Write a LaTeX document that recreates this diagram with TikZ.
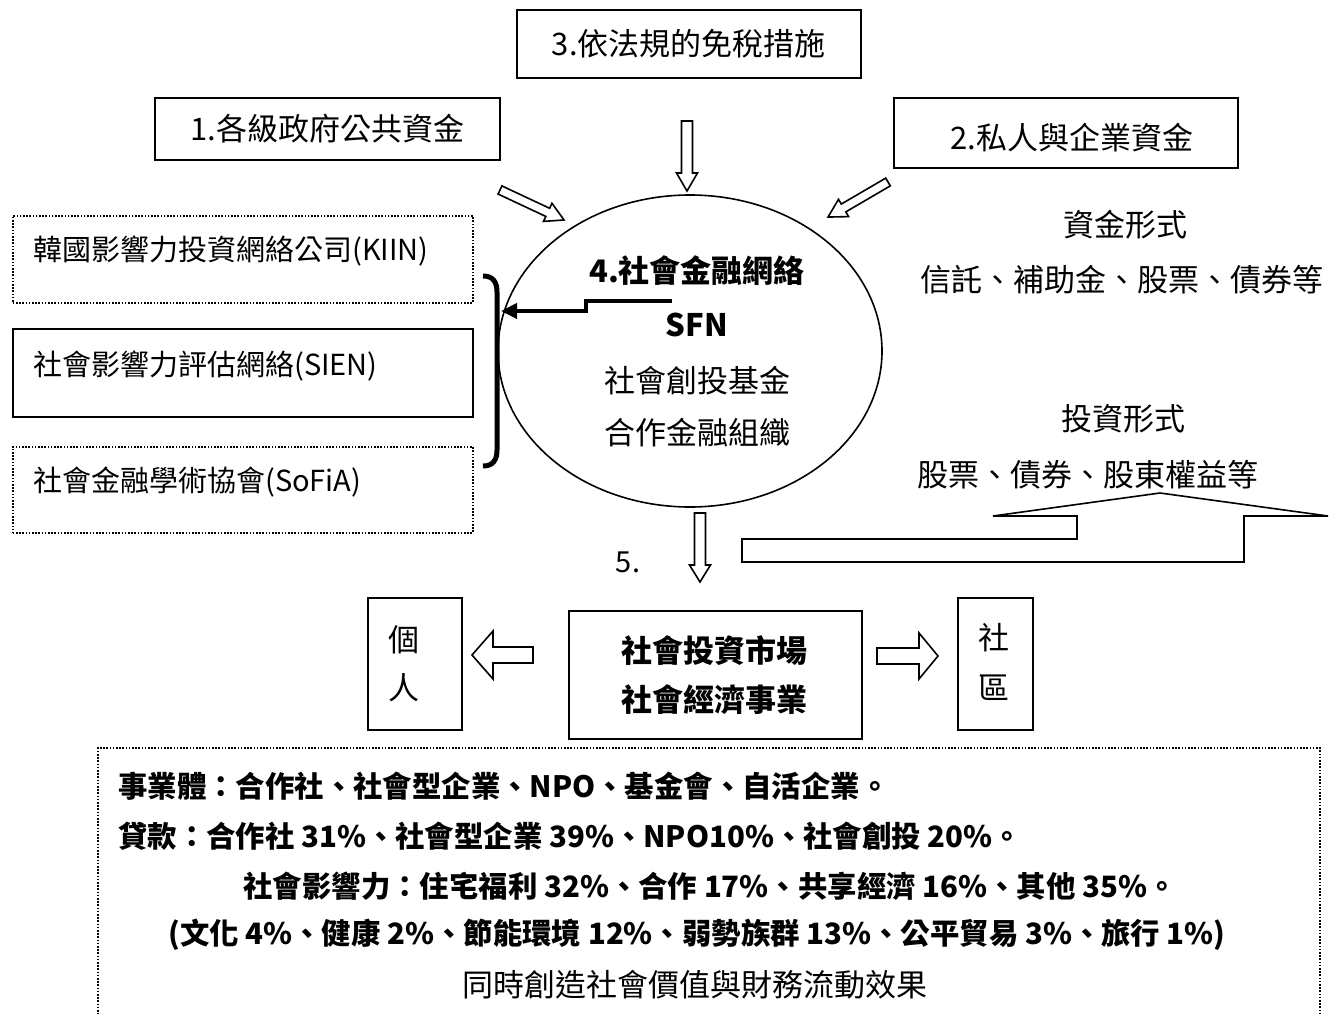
\documentclass[tikz,border=0pt]{standalone}
\usepackage{fontspec}
\setmainfont{Noto Sans CJK TC}
\usetikzlibrary{arrows.meta,shapes.geometric}
\begin{document}
\begin{tikzpicture}[x=1pt,y=-1pt,
  boxline/.style={draw, line width=1.6pt, inner sep=0pt},
  dotline/.style={draw, line width=1.6pt, dash pattern=on 1.6pt off 1.6pt, inner sep=0pt},
  blockline/.style={draw, line width=1.6pt, fill=white, line join=miter},
  fA/.style={font=\fontsize{31}{37}\selectfont},
  fB/.style={font=\fontsize{29}{35}\selectfont},
  fC/.style={font=\bfseries\fontsize{29.4}{35}\selectfont},
  fD/.style={font=\bfseries\fontsize{31}{37}\selectfont},
  txt/.style={inner sep=0pt},
  thickarr/.style={line width=4.5pt, -{Triangle[length=16pt,width=15pt]}},
  pics/blockarr/.style args={#1/#2/#3/#4}{code={
     \draw[blockline] (0,#2) -- (#1-#4,#2) -- (#1-#4,#3) -- (#1,0) -- (#1-#4,-#3) -- (#1-#4,-#2) -- (0,-#2) -- cycle;}}
]
\useasboundingbox[fill=white] (0,0) rectangle (1330,1014);

% top boxes
\node[boxline, fA, minimum width=344, minimum height=68, anchor=north west] (b3) at (516,9) {3.依法規的免稅措施};
\node[boxline, fA, minimum width=345, minimum height=62, anchor=north west] (b1) at (154,97) {1.各級政府公共資金};
\node[boxline, minimum width=344, minimum height=70, anchor=north west] (b2) at (893,97) {};
\node[txt, fA] (t2) at (1072,138) {2.私人與企業資金};

% block arrows into ellipse
\pic[rotate=-90] at (687,121) {blockarr=70/5.5/10.5/18};
\pic[rotate=-25.1] at (500,190) {blockarr=70.7/4.5/10/18};
\pic[rotate=210.3] at (888,182) {blockarr=69.5/4.5/10/18};

% ellipse
\node[draw, ellipse, line width=1.6pt, minimum width=384, minimum height=312, inner sep=0pt] (sfn) at (690,351) {};
\node[txt, fD] (s1) at (697,271) {4.社會金融網絡};
\node[txt, fD] (s2) at (697,325) {SFN};
\node[txt, fA] (s3) at (697,381) {社會創投基金};
\node[txt, fA] (s4) at (697,433) {合作金融組織};

% left boxes
\node[dotline, minimum width=460, minimum height=87, anchor=north west] (kiin) at (12,215) {};
\node[txt, fB, anchor=west] (kiint) at (33,251) {韓國影響力投資網絡公司(KIIN)};
\node[boxline, minimum width=460, minimum height=88, anchor=north west] (sien) at (12,328) {};
\node[txt, fB, anchor=west] (sient) at (33,366) {社會影響力評估網絡(SIEN)};
\node[dotline, minimum width=460, minimum height=86, anchor=north west] (sofia) at (12,446) {};
\node[txt, fB, anchor=west] (sofiat) at (33,482) {社會金融學術協會(SoFiA)};

% bracket
\draw[line width=5pt] (483,276) .. controls (493,276) and (497,282) .. (497,292) -- (497,450) .. controls (497,460) and (493,466) .. (483,466);
\coordinate (brk) at (501,311);
\coordinate (tstart) at (672,301);
\draw[thickarr] (tstart) -- (586,301) -- (586,311) -- (brk);

% right texts
\node[txt, fA] (r1) at (1125,225) {資金形式};
\node[txt, fA] (r2) at (1122,280) {信託、補助金、股票、債券等};
\node[txt, fA] (r3) at (1123,419) {投資形式};
\node[txt, fA] (r4) at (1088,475) {股票、債券、股東權益等};

% U-shaped up arrow
\draw[blockline] (742,539) -- (1077,539) -- (1077,516) -- (993,516) -- (1160,493) -- (1328,516) -- (1244,516) -- (1244,562) -- (742,562) -- cycle;

% arrow 5
\pic[rotate=-90] at (700,513) {blockarr=69/5.5/10.5/17};
\node[txt, fB] (five) at (628,562) {5.};

% bottom row
\node[boxline, minimum width=94, minimum height=132, anchor=north west] (indiv) at (367,597) {};
\node[txt, fA] (i1) at (404,640) {個};
\node[txt, fA] (i2) at (404,688) {人};
\node[boxline, minimum width=293, minimum height=128, anchor=north west] (mkt) at (568,610) {};
\node[txt, fD] (m1) at (714,651) {社會投資市場};
\node[txt, fD] (m2) at (714,700) {社會經濟事業};
\node[boxline, minimum width=75, minimum height=132, anchor=north west] (comm) at (957,597) {};
\node[txt, fA] (c1) at (994,638) {社};
\node[txt, fA] (c2) at (994,688) {區};
\pic[rotate=180] at (533,655) {blockarr=61/8/24/21};
\pic at (877,656) {blockarr=61/8/23/19};

% bottom dotted frame
\draw[line width=1.6pt, dash pattern=on 1.6pt off 1.6pt] (98,1018) -- (98,748) -- (1320,748) -- (1320,1018);
\node[txt, fC, anchor=west] (l1) at (118,786) {事業體：合作社、社會型企業、NPO、基金會、自活企業。};
\node[txt, fC, anchor=west] (l2) at (118,836) {貸款：合作社 31\%、社會型企業 39\%、NPO10\%、社會創投 20\%。};
\node[txt, fC] (l3) at (710,886) {社會影響力：住宅福利 32\%、合作 17\%、共享經濟 16\%、其他 35\%。};
\node[txt, fC] (l4) at (697,935) {(文化 4\%、健康 2\%、節能環境 12\%、弱勢族群 13\%、公平貿易 3\%、旅行 1\%)};
\node[txt, fA] (l5) at (695,985) {同時創造社會價值與財務流動效果};
\end{tikzpicture}
\end{document}
